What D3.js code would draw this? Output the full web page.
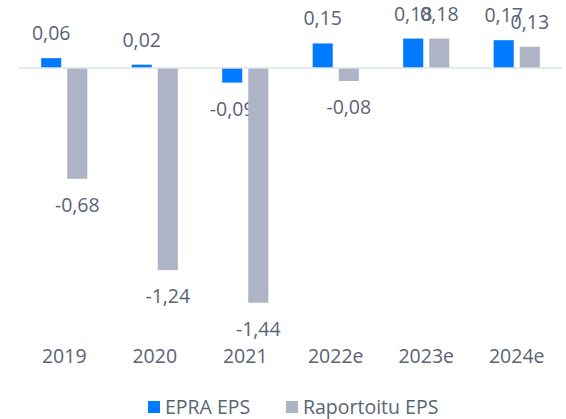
<!DOCTYPE html>
<html>
<head>
<meta charset="utf-8">
<script src="https://cdn.jsdelivr.net/npm/d3@7"></script>
<style>
  body { margin: 0; background: #fff; }
  svg { font-family: "Open Sans", sans-serif; }
  .lbl { fill: #5a6375; font-size: 19.5px; }
</style>
</head>
<body>
<div id="chart"></div>
<script>
// EPS chart: EPRA vs reported, grouped bars around zero

var categories = ["2019", "2020", "2021", "2022e", "2023e", "2024e"];
var seriesNames = ["EPRA EPS", "Raportoitu EPS"];
var epraEps = [0.06, 0.02, -0.09, 0.15, 0.18, 0.17];
var reportedEps = [-0.68, -1.24, -1.44, -0.08, 0.18, 0.13];

var colors = ["#007bff", "#aeb3c6"];
var W = 566, H = 419;

var locale = d3.formatLocale({decimal: ",", thousands: " ", grouping: [3], currency: ["", "€"], minus: "-"});
var fmt = locale.format(".2f");

var rows = categories.map(function(c, i) {
	return {cat: c, values: [epraEps[i], reportedEps[i]]};
});

var svg = d3.select("#chart").append("svg")
	.attr("width", W)
	.attr("height", H);

var x0 = d3.scaleBand()
	.domain(categories)
	.range([19, 562])
	.paddingInner(0.49)
	.paddingOuter(0.245);

var x1 = d3.scaleBand()
	.domain(seriesNames)
	.range([0, x0.bandwidth()])
	.paddingInner(0.23);

// 0 sits at y=68, about 163px per unit
var y = d3.scaleLinear()
	.domain([-1.5, 0.3])
	.range([312.5, 19]);

var groups = svg.selectAll(".grp")
	.data(rows)
	.enter().append("g")
	.attr("class", "grp")
	.attr("transform", function(d) { return "translate(" + x0(d.cat) + ",0)"; });

var cells = groups.selectAll(".cell")
	.data(function(d) {
		return d.values.map(function(v, i) { return {name: seriesNames[i], value: v, idx: i}; });
	})
	.enter().append("g")
	.attr("class", "cell");

cells.append("rect")
	.attr("x", function(d) { return x1(d.name); })
	.attr("width", x1.bandwidth())
	.attr("y", function(d) { return y(Math.max(0, d.value)); })
	.attr("height", function(d) { return Math.abs(y(d.value) - y(0)); })
	.attr("fill", function(d) { return colors[d.idx]; });

// zero line
svg.append("line")
	.attr("x1", x0.range()[0])
	.attr("x2", x0.range()[1])
	.attr("y1", y(0))
	.attr("y2", y(0))
	.attr("stroke", "#dde3ea")
	.attr("stroke-width", 1.5);

// value labels, above positive bars and below negative ones
cells.append("text")
	.attr("class", "lbl")
	.attr("text-anchor", "middle")
	.attr("x", function(d) { return x1(d.name) + x1.bandwidth() / 2; })
	.attr("y", function(d) { return d.value >= 0 ? y(d.value) - 18 : y(d.value) + 33; })
	.text(function(d) { return fmt(d.value); });

// category axis (no line or ticks)
var xAxis = svg.append("g")
	.attr("transform", "translate(0,363)")
	.call(d3.axisBottom(x0).tickSize(0).tickPadding(0));
xAxis.select(".domain").remove();
xAxis.selectAll("text")
	.attr("class", "lbl")
	.attr("dy", 0)
	.style("font-family", "Open Sans, sans-serif");

// legend
var legend = svg.append("g").attr("transform", "translate(148,401)");
var legendX = [0, 138];
seriesNames.forEach(function(name, i) {
	var item = legend.append("g").attr("transform", "translate(" + legendX[i] + ",0)");
	item.append("rect")
		.attr("width", 12)
		.attr("height", 12)
		.attr("fill", colors[i]);
	item.append("text")
		.attr("class", "lbl")
		.attr("x", 17)
		.attr("y", 12.5)
		.text(name);
});
</script>
</body>
</html>
